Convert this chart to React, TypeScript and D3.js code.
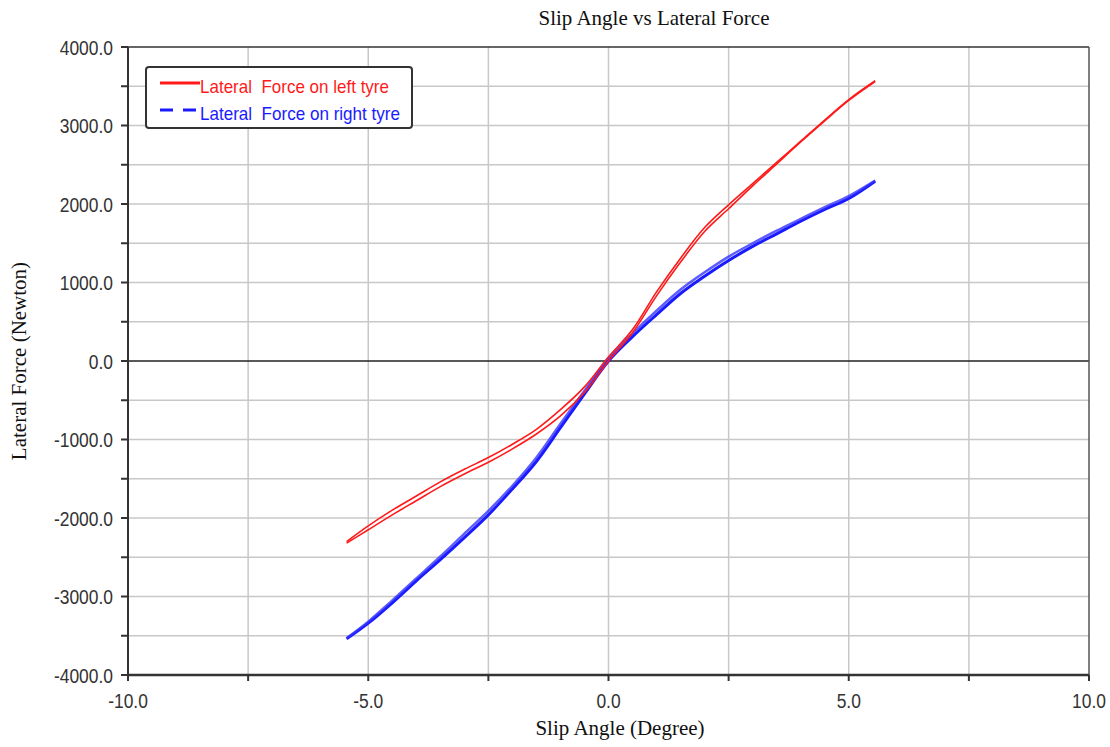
import React from "react";
import * as d3 from "d3";

// slip angle samples (degree)
const slipAngle = [-5.45, -5, -4.5, -4, -3.5, -3, -2.5, -2, -1.5, -1, -0.5, 0, 0.5, 1, 1.5, 2, 2.5, 3, 3.5, 4, 4.5, 5, 5.55];

// left tyre lateral force (N), loading / unloading strands
const leftLoad = [-2320, -2150, -1960, -1780, -1600, -1440, -1290, -1120, -930, -700, -400, 0, 360, 830, 1260, 1650, 1940, 2230, 2510, 2790, 3060, 3320, 3560];
const leftUnload = [-2300, -2100, -1900, -1720, -1540, -1380, -1230, -1060, -870, -620, -330, 50, 400, 880, 1310, 1700, 1990, 2260, 2530, 2800, 3070, 3330, 3570];

// right tyre lateral force (N)
const rightLoad = [-3540, -3340, -3080, -2800, -2530, -2250, -1960, -1630, -1280, -850, -420, 0, 310, 590, 860, 1080, 1280, 1460, 1620, 1780, 1930, 2070, 2290];
const rightUnload = [-3530, -3320, -3050, -2770, -2490, -2200, -1910, -1590, -1230, -800, -380, 40, 350, 640, 910, 1130, 1330, 1500, 1660, 1810, 1960, 2100, 2300];

const xTicks = [-10, -7.5, -5, -2.5, 0, 2.5, 5, 7.5, 10];
const xLabels = [-10, -5, 0, 5, 10];
const yTicks = d3.range(-4000, 4001, 500);
const yLabels = [-4000, -3000, -2000, -1000, 0, 1000, 2000, 3000, 4000];

const legendItems = [
  { name: "Lateral  Force on left tyre", color: "#ff1a1a", dash: "none", len: 189 },
  { name: "Lateral  Force on right tyre", color: "#1a1aff", dash: "13 10", len: 200 },
];

export default function App() {
  const width = 1110;
  const height = 747;
  const margin = { top: 47, right: 21, bottom: 72, left: 128 };
  const innerW = width - margin.left - margin.right;
  const innerH = height - margin.top - margin.bottom;

  const x = d3.scaleLinear().domain([-10, 10]).range([0, innerW]);
  const y = d3.scaleLinear().domain([-4000, 4000]).range([innerH, 0]);

  const line = (vals: number[]) =>
    d3
      .line<number>()
      .x((_, i) => x(slipAngle[i]))
      .y((v) => y(v))
      .curve(d3.curveCatmullRom)(vals) || "";

  const sx = 0.83; // narrow tick font
  const tickFont = "Liberation Sans, Arial, sans-serif";

  return (
    <svg width={width} height={height} style={{ position: "absolute", left: 0, top: 0, background: "#fff" }}>
      <text x={654} y={25} textAnchor="middle" fontFamily="Liberation Serif, Times New Roman, serif" fontSize={21} fill="#111">
        Slip Angle vs Lateral Force
      </text>

      <g transform={`translate(${margin.left},${margin.top})`}>
        {/* grid */}
        {xTicks.slice(1, -1).map((t) => (
          <line key={"gx" + t} x1={x(t)} x2={x(t)} y1={0} y2={innerH} stroke="#c8c8c8" strokeWidth={1.5} />
        ))}
        {yTicks.slice(1, -1).filter((t) => t !== 0).map((t) => (
          <line key={"gy" + t} x1={0} x2={innerW} y1={y(t)} y2={y(t)} stroke="#c8c8c8" strokeWidth={1.5} />
        ))}
        <line x1={0} x2={innerW} y1={y(0)} y2={y(0)} stroke="#222" strokeWidth={1.5} />

        {/* frame */}
        <line x1={0} x2={innerW} y1={0} y2={0} stroke="#333" strokeWidth={1.5} />
        <line x1={innerW} x2={innerW} y1={0} y2={innerH} stroke="#555" strokeWidth={1.5} />

        {/* series */}
        <path d={line(rightLoad)} fill="none" stroke="#1a1aff" strokeWidth={3} />
        <path d={line(rightUnload)} fill="none" stroke="#3333ff" strokeWidth={2.5} strokeOpacity={0.8} />
        <path d={line(leftLoad)} fill="none" stroke="#ff1a1a" strokeWidth={1.6} />
        <path d={line(leftUnload)} fill="none" stroke="#ff1a1a" strokeWidth={1.6} />

        {/* y axis */}
        <line x1={0} x2={0} y1={0} y2={innerH} stroke="#333" strokeWidth={2} />
        {yTicks.map((t) => (
          <line key={"ty" + t} x1={-7} x2={0} y1={y(t)} y2={y(t)} stroke="#333" strokeWidth={2} />
        ))}
        {yLabels.map((t) => (
          <text
            key={"ly" + t}
            transform={`translate(-15,${y(t)}) scale(${sx},1)`}
            dy="0.36em"
            textAnchor="end"
            fontFamily={tickFont}
            fontSize={21}
            fill="#333"
          >
            {t.toFixed(1)}
          </text>
        ))}

        {/* x axis */}
        <line x1={0} x2={innerW} y1={innerH} y2={innerH} stroke="#333" strokeWidth={2.5} />
        {xTicks.map((t) => (
          <line key={"tx" + t} x1={x(t)} x2={x(t)} y1={innerH} y2={innerH + 6} stroke="#333" strokeWidth={2} />
        ))}
        {xLabels.map((t) => (
          <text
            key={"lx" + t}
            transform={`translate(${x(t)},${innerH + 33}) scale(${sx},1)`}
            textAnchor="middle"
            fontFamily={tickFont}
            fontSize={21}
            fill="#333"
          >
            {t.toFixed(1)}
          </text>
        ))}

        {/* legend */}
        <g transform="translate(18,20)">
          <rect x={0} y={0} width={266} height={61} rx={3} fill="#fff" stroke="#333" strokeWidth={2} />
          {legendItems.map((d, i) => (
            <g key={d.name} transform={`translate(0,${16 + i * 27})`}>
              <line x1={14} x2={54} y1={0} y2={0} stroke={d.color} strokeWidth={3} strokeDasharray={d.dash} />
              <text
                x={54}
                y={10}
                fontFamily={tickFont}
                fontSize={19}
                fill={d.color}
                textLength={d.len}
                lengthAdjust="spacingAndGlyphs"
                style={{ whiteSpace: "pre" }}
              >
                {d.name}
              </text>
            </g>
          ))}
        </g>
      </g>

      <text x={620} y={735} textAnchor="middle" fontFamily="Liberation Serif, Times New Roman, serif" fontSize={21} fill="#111">
        Slip Angle (Degree)
      </text>
      <text
        transform={`translate(26,${margin.top + innerH / 2}) rotate(-90)`}
        textAnchor="middle"
        fontFamily="Liberation Serif, Times New Roman, serif"
        fontSize={21}
        fill="#111"
      >
        Lateral Force (Newton)
      </text>
    </svg>
  );
}
